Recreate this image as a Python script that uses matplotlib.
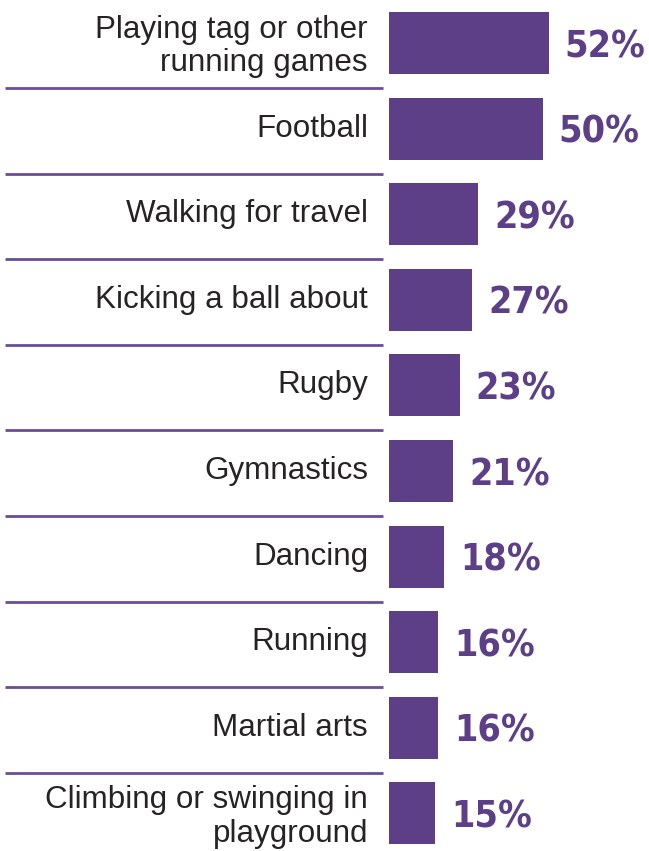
import matplotlib
matplotlib.use("Agg")
from matplotlib import pyplot as plt
from matplotlib import font_manager

activities = [
    "Playing tag or other\nrunning games",
    "Football",
    "Walking for travel",
    "Kicking a ball about",
    "Rugby",
    "Gymnastics",
    "Dancing",
    "Running",
    "Martial arts",
    "Climbing or swinging in\nplayground",
]
percentages = [52, 50, 29, 27, 23, 21, 18, 16, 16, 15]

PURPLE = "#5C3F86"
LINE_PURPLE = "#6A4C98"
TEXT_GREY = "#262324"

installed = {f.name for f in font_manager.fontManager.ttflist}
if "Liberation Sans Narrow" in installed:
    value_font = dict(family="Liberation Sans Narrow", fontsize=31)
else:
    value_font = dict(family="DejaVu Sans", fontstretch="condensed", fontsize=27)

fig = plt.figure(figsize=(6.49, 8.51), dpi=100)
ax = fig.add_axes([0, 0, 1, 1])

# 0% sits at x=389px, about 3.07px per percentage point
px = 1 / 3.07
ax.set_xlim(-389 * px, 260 * px)
ax.set_ylim(808 / 85.6, -43 / 85.6)

rows = range(len(activities))
ax.barh(rows, percentages, height=0.725, color=PURPLE)

for i, (name, val) in enumerate(zip(activities, percentages)):
    two_lines = "\n" in name
    ax.text(-21 * px, i + (0.04 if two_lines else 0), name, ha="right",
            va="center", fontsize=22.6, family="Liberation Sans",
            color=TEXT_GREY, linespacing=1.16)
    ax.text(val + 16 * px, i, f"{val}%", ha="left", va="center_baseline",
            fontweight="bold", color=PURPLE, **value_font)
    if i < len(activities) - 1:
        ax.hlines(i + 0.525, -384 * px, -6 * px, color=LINE_PURPLE, lw=2)

ax.axis("off")
fig.savefig("out.png", dpi=100)
